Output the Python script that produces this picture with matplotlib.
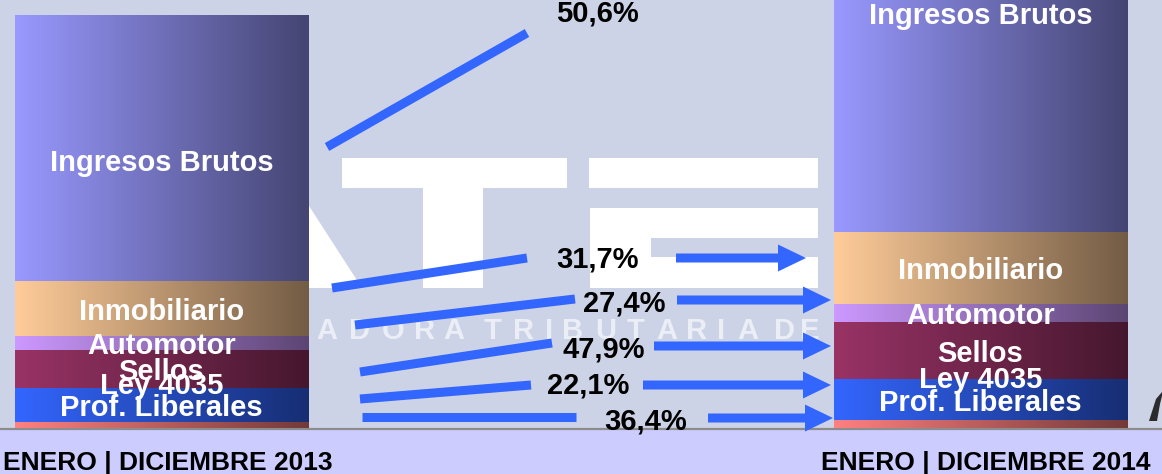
import numpy as np
import matplotlib.pyplot as plt
from matplotlib.patches import Rectangle, Polygon
from matplotlib.colors import to_rgb

plt.rcParams['font.family'] = ['Liberation Sans', 'DejaVu Sans']

# data (bottom -> top of each stacked bar)
periods = ['ENERO | DICIEMBRE 2013', 'ENERO | DICIEMBRE 2014']
taxes = ['Otros', 'Prof. Liberales', 'Ley 4035', 'Sellos', 'Automotor',
         'Inmobiliario', 'Ingresos Brutos']
rec_2013 = [5.5, 34, 0.5, 38, 14, 55, 266]
rec_2014 = [7.5, 41, 0.5, 57, 18, 72, 400]
growth = ['36,4%', '22,1%', None, '47,9%', '27,4%', '31,7%', '50,6%']
show_label = [False, True, True, True, True, True, True]

colors = ['#FF8080', '#3366FF', '#993366', '#993366', '#CC99FF', '#FFCC99', '#9999FF']
# small manual nudges of the segment labels (data units, up = +)
dy_2013 = [0, 0, 5, 0, 0, 0, -12]
dy_2014 = [0, 0, 2, 0, 0, 0, 19]

# connector layout in pixels: line start, line end, label centre, (arrow x0, x1, y)
conn = {
    'Ingresos Brutos': ((327, 147), (527, 33), (597, 10), None),
    'Inmobiliario': ((332, 288), (527, 258), (598, 256), (676, 806, 258)),
    'Automotor': ((355, 325), (575, 299), (624, 301), (677, 831, 300)),
    'Sellos': ((360, 372), (552, 343), (604, 346), (654, 831, 346)),
    'Prof. Liberales': ((360, 399), (531, 385), (588, 382), (643, 831, 385)),
    'Otros': ((362, 417), (576, 417), (646, 418), (708, 833, 418)),
}

W, H = 1162, 474
base = 428
blue = '#3366FF'

fig = plt.figure(figsize=(W / 100, H / 100), dpi=100)
fig.patch.set_facecolor('#CDD3E6')

# background: bottom band and faint logo watermark
bg = fig.add_axes([0, 0, 1, 1], zorder=0)
bg.set_xlim(0, W)
bg.set_ylim(H, 0)
bg.axis('off')
bg.add_patch(Rectangle((0, 429), W, H - 429, color='#CCCCFF', lw=0))
bg.plot([0, W], [428.5, 428.5], color='#8C8C8C', lw=1.6)
wm = '#FFFFFF'
bg.add_patch(Polygon([(200, 158), (278, 158), (362, 288), (200, 288)], color=wm, lw=0))
bg.add_patch(Rectangle((342, 158), 225, 30, color=wm, lw=0))
bg.add_patch(Rectangle((423, 158), 60, 130, color=wm, lw=0))
bg.add_patch(Rectangle((589, 158), 229, 30, color=wm, lw=0))
bg.add_patch(Polygon([(590, 208), (818, 208), (818, 238), (651, 238), (651, 257),
                      (818, 257), (818, 288), (590, 288)], color=wm, lw=0))
wm_chars = 'RADORATRIBUTARIADEE'
wm_x = [288, 316, 349, 382, 414, 443, 484, 513, 545, 562, 595, 627, 656, 686,
        717, 737, 774, 800, 834]
for ch, xx in zip(wm_chars, wm_x):
    bg.text(xx, 331, ch, color='#ECEEF6', fontsize=21, fontweight='heavy',
            ha='left', va='center')

# stacked bars with horizontal gradient fill
ax = fig.add_axes([0, (H - base) / H, 1, base / H], zorder=1)
ax.patch.set_alpha(0)
x = np.arange(len(periods))
width = 0.358
xlim = (-161.5 / 819, 1 + (W - 980.5) / 819)
bottoms = np.zeros(len(periods))
grad = np.linspace(0, 1, 256)[None, :, None]
for i, tax in enumerate(taxes):
    vals = np.array([rec_2013[i], rec_2014[i]])
    bars = ax.bar(x, vals, width=width, bottom=bottoms, color='none', lw=0)
    c0 = np.array(to_rgb(colors[i]))
    img = c0 * (1 - grad) + c0 * 0.45 * grad
    for b in bars:
        x0, y0 = b.get_x(), b.get_y()
        ax.imshow(img, extent=(x0, x0 + b.get_width(), y0, y0 + b.get_height()),
                  aspect='auto', interpolation='bilinear', zorder=1)
    if show_label[i]:
        for j, dy in enumerate((dy_2013[i], dy_2014[i])):
            ax.text(x[j], bottoms[j] + vals[j] / 2 + dy - 3, tax, color='white',
                    fontsize=21, fontweight='bold', ha='center', va='center',
                    zorder=3)
    bottoms += vals
ax.set_xlim(*xlim)
ax.set_ylim(0, base)
ax.axis('off')

# growth connectors and labels
ov = fig.add_axes([0, 0, 1, 1], zorder=2)
ov.patch.set_alpha(0)
ov.set_xlim(0, W)
ov.set_ylim(H, 0)
ov.axis('off')
for i, tax in enumerate(taxes):
    if growth[i] is None:
        continue
    p0, p1, lab, arr = conn[tax]
    ov.plot([p0[0], p1[0]], [p0[1], p1[1]], color=blue, lw=6.5,
            solid_capstyle='butt')
    ov.text(lab[0], lab[1] + 3, growth[i], fontsize=21, fontweight='bold',
            color='black', ha='center', va='center')
    if arr is not None:
        ov.arrow(arr[0], arr[2], arr[1] - arr[0], 0, width=9, head_width=27,
                 head_length=28, length_includes_head=True, color=blue, lw=0)

ov.add_patch(Polygon([(1149, 421), (1157, 421), (1160, 404), (1162, 396),
                      (1162, 392), (1156, 399)], color='#2B2B2B', lw=0))

for xc, p in zip([168, 986], periods):
    ov.text(xc, 463, p, fontsize=19, fontweight='bold', color='black',
            ha='center', va='center')

fig.savefig('out.png', dpi=100, facecolor=fig.get_facecolor())
